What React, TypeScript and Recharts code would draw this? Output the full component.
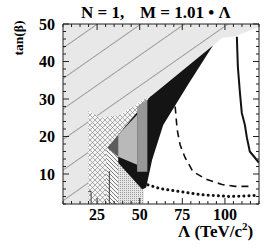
import { Area, ComposedChart, Line, XAxis, YAxis } from "recharts";

const FONT = '"Liberation Serif", "Times New Roman", serif';

const xTicks = [5, 10, 15, 20, 25, 30, 35, 40, 45, 50, 55, 60, 65, 70, 75, 80, 85, 90, 95, 100, 105, 110, 115, 120];
const xLabels = [25, 50, 75, 100];
const yTicks = [2, 4, 6, 8, 10, 12, 14, 16, 18, 20, 22, 24, 26, 28, 30, 32, 34, 36, 38, 40, 42, 44, 46, 48, 50];
const yLabels = [10, 20, 30, 40, 50];

// regions as tan(beta) bands [lo, hi] at each Lambda
const diagRegion = [
  { x: 5, lo: 2, hi: 50 },
  { x: 19.8, lo: 2, hi: 50 },
  { x: 19.8, lo: 27.1, hi: 50 },
  { x: 22.2, lo: 26.3, hi: 50 },
  { x: 26.9, lo: 25.0, hi: 50 },
  { x: 38.6, lo: 25.8, hi: 50 },
  { x: 52.0, lo: 29.8, hi: 50 },
  { x: 56.1, lo: 30.6, hi: 50 },
  { x: 93.0, lo: 44.2, hi: 50 },
  { x: 98.3, lo: 46.3, hi: 50 },
  { x: 106.4, lo: 46.8, hi: 50 },
  { x: 120, lo: 49.2, hi: 50 },
];

const crossRegion = [
  { x: 19.8, lo: 2, hi: 27.1 },
  { x: 22.2, lo: 2, hi: 26.3 },
  { x: 26.9, lo: 2, hi: 25.0 },
  { x: 38.6, lo: 2, hi: 25.8 },
  { x: 48.5, lo: 2, hi: 28.6 },
  { x: 48.5, lo: 10, hi: 28.6 },
  { x: 52.0, lo: 10, hi: 29.8 },
  { x: 56.1, lo: 28, hi: 30.6 },
];

const slashRegion = [
  { x: 30.4, lo: 2, hi: 16.6 },
  { x: 37.4, lo: 2, hi: 14.6 },
];

const fineRegion = [
  { x: 37.4, lo: 2, hi: 13.0 },
  { x: 51.5, lo: 2, hi: 5.9 },
  { x: 52.5, lo: 2, hi: 5.4 },
];

const blackRegion = [
  { x: 37.4, lo: 13.0, hi: 20.5 },
  { x: 51.5, lo: 5.9, hi: 28.1 },
  { x: 53.8, lo: 6.4, hi: 29.3 },
  { x: 56.1, lo: 11.3, hi: 30.6 },
  { x: 57.3, lo: 13.8, hi: 31.0 },
  { x: 63.8, lo: 23.1, hi: 33.4 },
  { x: 78.3, lo: 33.8, hi: 38.8 },
  { x: 93.0, lo: 44.3, hi: 44.3 },
];

const darkRegion = [
  { x: 31.0, lo: 17.0, hi: 17.0 },
  { x: 37.4, lo: 14.6, hi: 20.5 },
];

const lightRegion = [
  { x: 37.4, lo: 14.6, hi: 20.5 },
  { x: 48.5, lo: 12.5, hi: 25.8 },
];

const midRegion = [
  { x: 48.5, lo: 10.6, hi: 28.0 },
  { x: 54.5, lo: 10.6, hi: 29.9 },
];

const solidCurve = [
  { x: 107.0, y: 46.6 },
  { x: 107.6, y: 38.6 },
  { x: 108.8, y: 31.7 },
  { x: 109.9, y: 26.3 },
  { x: 111.7, y: 23.1 },
  { x: 112.9, y: 19.7 },
  { x: 114.6, y: 16.0 },
  { x: 117.5, y: 14.4 },
  { x: 120, y: 13.0 },
];

const dashedCurve = [
  { x: 70.8, y: 28.0 },
  { x: 72.0, y: 21.8 },
  { x: 73.7, y: 17.8 },
  { x: 76.6, y: 14.4 },
  { x: 81.3, y: 10.6 },
  { x: 89.5, y: 8.5 },
  { x: 98.3, y: 7.2 },
  { x: 105.9, y: 6.7 },
  { x: 114.6, y: 6.7 },
];

const dottedCurve = [
  { x: 52.0, y: 7.5 },
  { x: 62.0, y: 6.1 },
  { x: 73.7, y: 5.3 },
  { x: 85.4, y: 4.5 },
  { x: 103.0, y: 4.0 },
  { x: 119.4, y: 4.3 },
];

const edgeA = [
  { x: 21.5, y: 2 },
  { x: 21.5, y: 5.3 },
  { x: 19.8, y: 5.3 },
];
const edgeB = [
  { x: 32.2, y: 2 },
  { x: 32.2, y: 10.8 },
];

const band = (d: { lo: number; hi: number }) => [d.lo, d.hi];

const tickStroke = "#222";

function BottomTick({ x, y, payload }: any) {
  const v = payload.value;
  const major = xLabels.includes(v);
  return (
    <g>
      <line x1={x} y1={y} x2={x} y2={y - (major ? 6 : 3)} stroke={tickStroke} />
      {major ? (
        <text x={x} y={y + 16} textAnchor="middle" fontFamily={FONT} fontWeight={700} fontSize={16} fill="#000">
          {v}
        </text>
      ) : null}
    </g>
  );
}

function TopTick({ x, y, payload }: any) {
  const major = xLabels.includes(payload.value);
  return <line x1={x} y1={y} x2={x} y2={y + (major ? 6 : 3)} stroke={tickStroke} />;
}

function LeftTick({ x, y, payload }: any) {
  const v = payload.value;
  const major = yLabels.includes(v);
  return (
    <g>
      <line x1={x} y1={y} x2={x + (major ? 6 : 3)} y2={y} stroke={tickStroke} />
      {major ? (
        <text x={x - 8} y={y + 5.5} textAnchor="end" fontFamily={FONT} fontWeight={700} fontSize={16} fill="#000">
          {v}
        </text>
      ) : null}
    </g>
  );
}

function RightTick({ x, y, payload }: any) {
  const major = yLabels.includes(payload.value);
  return <line x1={x} y1={y} x2={x - (major ? 6 : 3)} y2={y} stroke={tickStroke} />;
}

export default function App() {
  return (
    <div style={{ position: "absolute", left: 0, top: 0, width: 270, height: 249, background: "#fff" }}>
      <ComposedChart width={270} height={249} margin={{ top: 20, right: 7, bottom: 5, left: 23 }}>
        <defs>
          <pattern id="diag" width={25} height={25} patternUnits="userSpaceOnUse" patternTransform="rotate(-35)">
            <rect width={25} height={25} fill="#e8e8e8" />
            <line x1={0} y1={0.5} x2={25} y2={0.5} stroke="#8a8a8a" strokeWidth={0.8} />
          </pattern>
          <pattern id="cross" width={5} height={5} patternUnits="userSpaceOnUse">
            <rect width={5} height={5} fill="#f4f4f4" />
            <path d="M0,0 L5,5 M5,0 L0,5" stroke="#7a7a7a" strokeWidth={0.6} />
          </pattern>
          <pattern id="slash" width={4} height={4} patternUnits="userSpaceOnUse">
            <rect width={4} height={4} fill="#f6f6f6" />
            <path d="M0,0 L4,4 M-1,3 L1,5 M3,-1 L5,1" stroke="#5a5a5a" strokeWidth={0.8} />
          </pattern>
          <pattern id="fine" width={2} height={2} patternUnits="userSpaceOnUse">
            <rect width={2} height={2} fill="#e6e6e6" />
            <rect width={1} height={1} fill="#9a9a9a" />
          </pattern>
        </defs>
        <Area data={diagRegion} dataKey={band} type="linear" stroke="none" fill="url(#diag)" fillOpacity={1} isAnimationActive={false} dot={false} activeDot={false} />
        <Area data={crossRegion} dataKey={band} type="linear" stroke="none" fill="url(#cross)" fillOpacity={1} isAnimationActive={false} dot={false} activeDot={false} />
        <Area data={slashRegion} dataKey={band} type="linear" stroke="none" fill="url(#slash)" fillOpacity={1} isAnimationActive={false} dot={false} activeDot={false} />
        <Area data={fineRegion} dataKey={band} type="linear" stroke="none" fill="url(#fine)" fillOpacity={1} isAnimationActive={false} dot={false} activeDot={false} />
        <Area data={blackRegion} dataKey={band} type="linear" stroke="none" fill="#141414" fillOpacity={1} isAnimationActive={false} dot={false} activeDot={false} />
        <Area data={darkRegion} dataKey={band} type="linear" stroke="none" fill="#5c5c5c" fillOpacity={1} isAnimationActive={false} dot={false} activeDot={false} />
        <Area data={lightRegion} dataKey={band} type="linear" stroke="none" fill="#b9b9b9" fillOpacity={1} isAnimationActive={false} dot={false} activeDot={false} />
        <Area data={midRegion} dataKey={band} type="linear" stroke="none" fill="#979797" fillOpacity={1} isAnimationActive={false} dot={false} activeDot={false} />
        <Line data={edgeA} dataKey="y" type="linear" stroke="#444" strokeWidth={1} dot={false} activeDot={false} isAnimationActive={false} />
        <Line data={edgeB} dataKey="y" type="linear" stroke="#444" strokeWidth={1} dot={false} activeDot={false} isAnimationActive={false} />
        <Line data={dashedCurve} dataKey="y" type="linear" stroke="#111" strokeWidth={1.6} strokeDasharray="7 5" dot={false} activeDot={false} isAnimationActive={false} />
        <Line data={dottedCurve} dataKey="y" type="linear" stroke="#111" strokeWidth={3} strokeDasharray="0.1 5" strokeLinecap="round" dot={false} activeDot={false} isAnimationActive={false} />
        <Line data={solidCurve} dataKey="y" type="linear" stroke="#111" strokeWidth={2} dot={false} activeDot={false} isAnimationActive={false} />
        <XAxis
          type="number"
          dataKey="x"
          domain={[5, 120]}
          ticks={xTicks}
          allowDataOverflow
          height={40}
          tickSize={0}
          tickMargin={0}
          tickLine={false}
          axisLine={{ stroke: tickStroke }}
          tick={<BottomTick />}
          interval={0}
        />
        <XAxis
          xAxisId="top"
          orientation="top"
          type="number"
          dataKey="x"
          domain={[5, 120]}
          ticks={xTicks}
          allowDataOverflow
          height={4}
          tickSize={0}
          tickMargin={0}
          tickLine={false}
          axisLine={{ stroke: tickStroke }}
          tick={<TopTick />}
          interval={0}
        />
        <YAxis
          type="number"
          domain={[2, 50]}
          ticks={yTicks}
          allowDataOverflow
          width={40}
          tickSize={0}
          tickMargin={0}
          tickLine={false}
          axisLine={{ stroke: tickStroke }}
          tick={<LeftTick />}
          interval={0}
        />
        <YAxis
          yAxisId="right"
          orientation="right"
          type="number"
          domain={[2, 50]}
          ticks={yTicks}
          allowDataOverflow
          width={4}
          tickSize={0}
          tickMargin={0}
          tickLine={false}
          axisLine={{ stroke: tickStroke }}
          tick={<RightTick />}
          interval={0}
        />
      </ComposedChart>
      <svg width={270} height={249} style={{ position: "absolute", left: 0, top: 0, pointerEvents: "none" }}>
        <text y={18} fontFamily={FONT} fontWeight={700} fontSize={17} fill="#000">
          <tspan x={81}>N = 1,</tspan>
          <tspan x={140}>M = 1.01 • Λ</tspan>
        </text>
        <text
          x={23}
          y={38}
          transform="rotate(-90 23 38)"
          textAnchor="middle"
          fontFamily={FONT}
          fontWeight={700}
          fontSize={13.5}
          fill="#000"
        >
          tan(β)
        </text>
        <text x={178} y={237} fontFamily={FONT} fontWeight={700} fontSize={17} fill="#000">
          Λ (TeV/c
          <tspan fontSize={11} dy={-7}>2</tspan>
          <tspan dy={7}>)</tspan>
        </text>
      </svg>
    </div>
  );
}
